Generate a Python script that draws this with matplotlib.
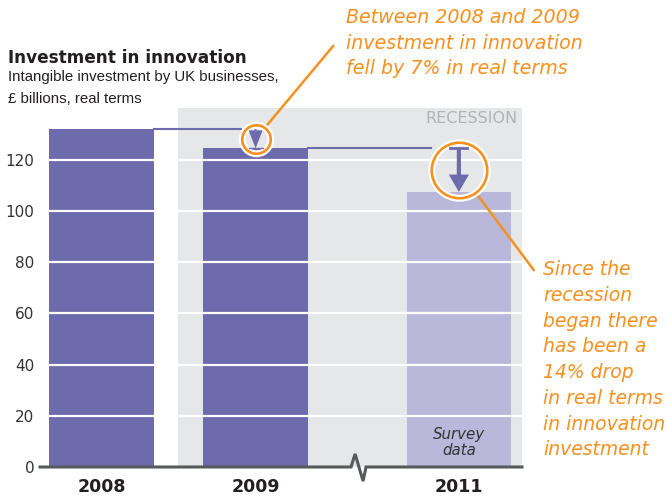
import matplotlib.pyplot as plt

# data
years = ["2008", "2009", "2011"]
investment = [132, 124.5, 107.5]        # £ billions, real terms
yticks = [0, 20, 40, 60, 80, 100, 120]

purple = "#6d6bab"
light_purple = "#b9b8db"
grey_bg = "#e6e7e8"
orange = "#f7901e"
dark = "#231f20"

fig = plt.figure(figsize=(6.67, 4.98), dpi=100)
ax = fig.add_axes([40 / 667, 1 - 467 / 498, 482 / 667, 359 / 498])

pos = [0, 1, 2.32]   # gap before 2011 (axis break)
width = 0.68
ax.set_xlim(-0.40, 2.73)
ax.set_ylim(0, 140.3)

# recession shading
ax.axvspan(0.494, 2.73, color=grey_bg, lw=0, zorder=0)
ax.text(0.99, 0.972, "RECESSION", transform=ax.transAxes, ha="right", va="center",
        color="#b2b3b5", fontsize=11.5, family="DejaVu Sans")

colors = [purple, purple, light_purple]
ax.bar(pos, investment, width=width, color=colors, zorder=1)

# white gridlines drawn over the bars
for v in yticks[1:]:
    ax.axhline(v, color="white", lw=1.6, zorder=2)

# connectors from previous bar tops
r1, r2 = 0.095, 0.18
ax.plot([pos[0] + width / 2, pos[1] - r1], [investment[0]] * 2, color=purple, lw=1.5, zorder=3)
ax.plot([pos[1] + width / 2, pos[2] - r2], [investment[1]] * 2, color=purple, lw=1.5, zorder=3)

# circles with white halo
c1 = (investment[0] + investment[1]) / 2
c2 = (investment[1] + investment[2]) / 2
for (x, y, ms) in [(pos[1], c1, 20.5), (pos[2], c2, 40)]:
    ax.plot(x, y, marker="o", ms=ms, mfc="none", mec="white", mew=5, zorder=4, clip_on=False)
    ax.plot(x, y, marker="o", ms=ms, mfc="none", mec=orange, mew=1.9, zorder=5, clip_on=False)

# drop arrows
ax.annotate("", xy=(pos[1], investment[1]), xytext=(pos[1], investment[0]),
            arrowprops=dict(arrowstyle="simple,head_length=1.3,head_width=1.0,tail_width=0.15",
                            color=purple, lw=0, shrinkA=0, shrinkB=0, mutation_scale=10), zorder=6)
ax.plot([pos[1] - 0.045, pos[1] + 0.045], [investment[1]] * 2, color=purple, lw=1, zorder=6)
ax.annotate("", xy=(pos[2], investment[2]), xytext=(pos[2], investment[1]),
            arrowprops=dict(arrowstyle="simple,head_length=1.25,head_width=1.45,tail_width=0.3",
                            color=purple, lw=0, shrinkA=0, shrinkB=0, mutation_scale=10), zorder=6)
ax.plot([pos[2] - 0.055, pos[2] + 0.055], [investment[1]] * 2, color=purple, lw=2, zorder=6)

# orange leader lines to the notes
ax.annotate("", xy=(pos[1], c1), xytext=(56, 67), textcoords="offset points",
            arrowprops=dict(arrowstyle="-", color=orange, lw=1.8, shrinkA=0, shrinkB=10.5),
            annotation_clip=False)
ax.annotate("", xy=(pos[2], c2), xytext=(54, -72), textcoords="offset points",
            arrowprops=dict(arrowstyle="-", color=orange, lw=1.8, shrinkA=0, shrinkB=20),
            annotation_clip=False)

ax.text(pos[2], 9.5, "Survey\ndata", ha="center", va="center", fontsize=10.8,
        style="italic", color="#333333", linespacing=1.1, zorder=6)

# axis line with break between 2009 and 2011
bx = 1.62
ax.plot([-0.40, bx, bx + 0.026, bx + 0.078, bx + 0.097, 2.73],
        [0, 0, 5.1, -5.5, 0, 0], color="#58595b", lw=2.2, clip_on=False, zorder=7,
        solid_joinstyle="miter")

for s in ax.spines.values():
    s.set_visible(False)
ax.set_yticks(yticks)
ax.set_xticks(pos, labels=years)
ax.tick_params(axis="y", length=0, pad=4, labelsize=11, labelcolor="#333333")
ax.tick_params(axis="x", length=0, pad=8, labelsize=12.5, labelcolor=dark)
for lab in ax.get_xticklabels():
    lab.set_fontweight("bold")

# titles
fig.text(8 / 667, 1 - 58 / 498, "Investment in innovation", fontsize=12.2,
         fontweight="bold", color=dark, va="center")
fig.text(8 / 667, 1 - 70 / 498, "Intangible investment by UK businesses,\n£ billions, real terms",
         fontsize=10.8, color=dark, va="top", family="Liberation Sans", linespacing=1.7)

# notes
fig.text(346 / 667, 1 - 8 / 498, "Between 2008 and 2009\ninvestment in innovation\nfell by 7% in real terms",
         fontsize=13.7, style="italic", color=orange, va="top", linespacing=1.45)
fig.text(543 / 667, 1 - 260 / 498,
         "Since the\nrecession\nbegan there\nhas been a\n14% drop\nin real terms\nin innovation\ninvestment",
         fontsize=13.5, style="italic", color=orange, va="top", linespacing=1.45)

fig.savefig("out.png", dpi=100)
